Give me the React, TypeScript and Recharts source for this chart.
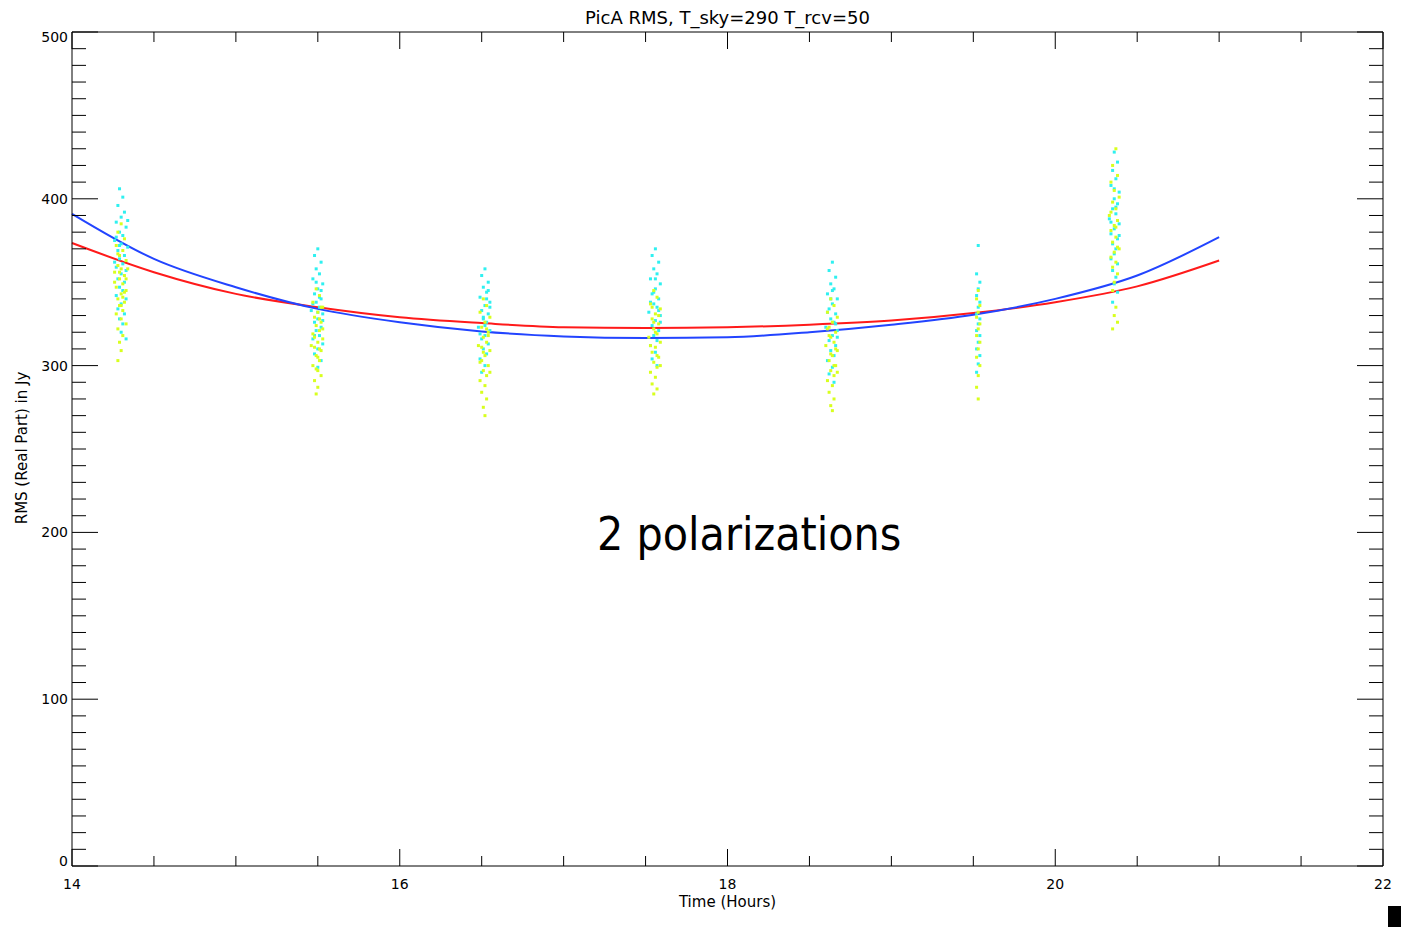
import React from "react";
import { ComposedChart, Line, Scatter, XAxis, YAxis } from "recharts";

// fit curves, read every half hour
const fitTimes = [14, 14.5, 15, 15.5, 16, 16.5, 17, 17.5, 18, 18.5, 19, 19.5, 20, 20.5, 21];
const blueFit = [391, 364, 347, 334, 326, 320.5, 317.5, 316.5, 317, 320, 324.5, 330.5, 340, 354, 377];
const redFit = [373.5, 356, 343, 335, 329, 325.5, 323, 322.5, 323, 324.5, 327, 331.5, 338, 347.5, 363];

// samples, [time, rms]
const cyanPts: [number, number][] = [
  // 14.3 h
  [14.29,406],[14.31,401],[14.28,396],[14.32,392],[14.30,389],[14.27,386],[14.33,383],[14.29,380],[14.31,378],[14.26,375],[14.30,373],[14.34,371],[14.28,369],[14.32,366],[14.29,364],[14.31,361],[14.27,359],[14.33,357],[14.30,355],[14.28,352],[14.32,350],[14.29,347],[14.31,345],[14.27,342],[14.33,340],[14.30,337],[14.28,334],[14.32,331],[14.29,328],[14.31,325],[14.30,320],[14.33,316],[14.27,377],[14.34,387],[14.26,362],[14.29,372],
  // 15.5 h
  [15.50,370],[15.48,366],[15.52,362],[15.49,358],[15.51,355],[15.47,352],[15.53,349],[15.50,346],[15.48,343],[15.52,340],[15.49,338],[15.51,335],[15.46,333],[15.53,331],[15.50,328],[15.48,326],[15.52,323],[15.49,321],[15.51,318],[15.47,316],[15.53,313],[15.50,310],[15.48,307],[15.52,303],[15.50,299],[15.49,350],[15.51,341],[15.47,337],[15.53,327],[15.50,332],[15.48,318],[15.52,345],
  // 16.5 h
  [16.52,358],[16.50,354],[16.54,350],[16.51,347],[16.53,344],[16.49,341],[16.55,338],[16.52,336],[16.50,333],[16.54,331],[16.51,328],[16.53,326],[16.48,323],[16.55,321],[16.52,318],[16.50,316],[16.54,313],[16.51,310],[16.53,307],[16.49,304],[16.52,300],[16.50,296],[16.53,340],[16.51,329],[16.55,335],[16.49,319],[16.52,324],[16.54,345],
  // 17.56 h
  [17.56,370],[17.54,366],[17.58,362],[17.55,358],[17.57,355],[17.53,352],[17.59,349],[17.56,346],[17.54,343],[17.58,340],[17.55,337],[17.57,335],[17.52,332],[17.59,330],[17.56,327],[17.54,324],[17.58,321],[17.55,318],[17.57,315],[17.53,312],[17.56,308],[17.54,304],[17.57,300],[17.55,344],[17.58,333],[17.53,338],[17.59,326],[17.56,352],
  // 18.64 h
  [18.64,362],[18.62,357],[18.66,353],[18.63,349],[18.65,346],[18.61,343],[18.67,340],[18.64,337],[18.62,334],[18.66,331],[18.63,328],[18.65,326],[18.60,323],[18.67,321],[18.64,318],[18.62,315],[18.66,312],[18.63,309],[18.65,306],[18.61,303],[18.64,299],[18.62,295],[18.65,290],[18.63,340],[18.66,325],[18.61,332],[18.67,317],[18.64,345],
  // 19.53 h
  [19.53,372],[19.52,355],[19.54,350],[19.53,346],[19.52,342],[19.54,338],[19.53,335],[19.52,331],[19.54,328],[19.53,325],[19.52,321],[19.54,318],[19.53,314],[19.52,310],[19.54,306],[19.53,301],[19.52,296],
  // 20.36 h
  [20.36,428],[20.38,422],[20.35,417],[20.37,412],[20.34,408],[20.39,404],[20.36,400],[20.38,397],[20.35,394],[20.37,391],[20.33,388],[20.39,385],[20.36,382],[20.34,379],[20.38,376],[20.35,373],[20.37,370],[20.36,367],[20.34,364],[20.38,361],[20.35,357],[20.37,353],[20.36,349],[20.38,344],[20.35,338],[20.37,395],[20.34,386],[20.39,378],[20.36,406],
];

const yellowPts: [number, number][] = [
  [14.30,385],[14.28,380],[14.32,376],[14.27,372],[14.31,369],[14.29,366],[14.33,363],[14.28,360],[14.30,358],[14.26,356],[14.32,354],[14.29,352],[14.31,349],[14.27,347],[14.33,345],[14.30,343],[14.28,340],[14.32,338],[14.29,336],[14.31,333],[14.27,331],[14.30,328],[14.33,325],[14.28,322],[14.31,318],[14.29,314],[14.30,309],[14.28,303],[14.32,344],[14.26,350],[14.34,358],[14.29,356],[14.31,341],[14.28,367],[14.33,352],[14.30,336],
  [15.49,346],[15.51,342],[15.47,338],[15.53,335],[15.50,332],[15.48,329],[15.52,326],[15.49,324],[15.51,321],[15.47,319],[15.53,316],[15.50,314],[15.48,311],[15.52,309],[15.49,306],[15.51,303],[15.47,300],[15.50,297],[15.52,294],[15.48,291],[15.50,287],[15.49,283],[15.51,328],[15.48,317],[15.53,322],[15.46,312],[15.50,305],[15.52,335],[15.49,298],[15.51,310],
  [16.51,340],[16.53,336],[16.49,332],[16.55,329],[16.52,326],[16.50,323],[16.54,320],[16.51,317],[16.53,314],[16.48,312],[16.55,309],[16.52,306],[16.50,303],[16.54,300],[16.51,297],[16.53,294],[16.49,291],[16.52,288],[16.50,284],[16.53,280],[16.51,275],[16.52,270],[16.50,311],[16.54,318],[16.49,302],[16.53,322],[16.51,308],[16.55,296],
  [17.55,345],[17.57,341],[17.53,337],[17.59,334],[17.56,331],[17.54,328],[17.58,325],[17.55,322],[17.57,319],[17.52,317],[17.59,314],[17.56,311],[17.54,308],[17.58,305],[17.55,302],[17.57,299],[17.53,296],[17.56,293],[17.54,289],[17.57,286],[17.55,283],[17.56,320],[17.58,330],[17.53,312],[17.57,306],[17.54,335],[17.59,300],[17.55,326],
  [18.63,340],[18.65,336],[18.61,332],[18.67,329],[18.64,326],[18.62,323],[18.66,320],[18.63,317],[18.65,314],[18.60,312],[18.67,309],[18.64,306],[18.62,303],[18.66,300],[18.63,297],[18.65,294],[18.61,291],[18.64,288],[18.62,284],[18.65,280],[18.63,276],[18.64,273],[18.66,310],[18.62,318],[18.65,300],[18.61,322],[18.67,296],[18.63,307],
  [19.53,345],[19.52,340],[19.54,336],[19.53,332],[19.52,329],[19.54,325],[19.53,322],[19.52,318],[19.54,314],[19.53,310],[19.52,305],[19.54,300],[19.53,294],[19.52,287],[19.53,280],
  [20.37,430],[20.35,420],[20.38,414],[20.34,410],[20.36,405],[20.39,401],[20.35,398],[20.37,394],[20.33,390],[20.38,387],[20.36,384],[20.34,381],[20.37,377],[20.35,374],[20.38,371],[20.36,368],[20.34,365],[20.37,362],[20.35,359],[20.38,355],[20.36,350],[20.35,345],[20.37,335],[20.36,330],[20.38,326],[20.35,322],[20.37,383],[20.34,392],[20.39,370],
];

const xTicks = [14, 14.5, 15, 15.5, 16, 16.5, 17, 17.5, 18, 18.5, 19, 19.5, 20, 20.5, 21, 21.5, 22];
const yTicks = Array.from({ length: 51 }, (_, i) => i * 10);

const blueData = fitTimes.map((t, i) => ({ t, v: blueFit[i] }));
const redData = fitTimes.map((t, i) => ({ t, v: redFit[i] }));
const cyanData = cyanPts.map(([t, v]) => ({ t, v }));
const yellowData = yellowPts.map(([t, v]) => ({ t, v }));

const FONT = "'DejaVu Sans', sans-serif";

const BottomTick = (p: any) => {
  const v = p.payload.value;
  const major = v % 2 === 0;
  return (
    <g>
      <line x1={p.x} x2={p.x} y1={p.y} y2={p.y - (major ? 17 : 10)} stroke="#000" />
      {major && (
        <text x={p.x} y={p.y + 23} textAnchor="middle" fontSize={14} fontFamily={FONT} fill="#000">
          {v}
        </text>
      )}
    </g>
  );
};

const TopTick = (p: any) => {
  const major = p.payload.value % 2 === 0;
  return <line x1={p.x} x2={p.x} y1={p.y} y2={p.y + (major ? 17 : 10)} stroke="#000" />;
};

const LeftTick = (p: any) => {
  const v = p.payload.value;
  const major = v % 100 === 0;
  const dy = v === 500 ? 10 : v === 0 ? 0 : 5;
  return (
    <g>
      <line x1={p.x} x2={p.x + (major ? 26 : 14)} y1={p.y} y2={p.y} stroke="#000" />
      {major && (
        <text x={p.x - 4} y={p.y + dy} textAnchor="end" fontSize={14} fontFamily={FONT} fill="#000">
          {v}
        </text>
      )}
    </g>
  );
};

const RightTick = (p: any) => {
  const major = p.payload.value % 100 === 0;
  return <line x1={p.x} x2={p.x - (major ? 26 : 14)} y1={p.y} y2={p.y} stroke="#000" />;
};

const dot = (color: string) => (p: any) => (
  <rect x={p.cx - 1.5} y={p.cy - 1.5} width={3} height={3} fill={color} />
);

export default function App() {
  return (
    <div style={{ position: "absolute", left: 0, top: 0, width: 1401, height: 927, background: "#fff" }}>
      <ComposedChart width={1401} height={927} margin={{ top: 0, right: 0, bottom: 0, left: 0 }}>
        <XAxis
          xAxisId="b"
          dataKey="t"
          type="number"
          domain={[14, 22]}
          ticks={xTicks}
          height={61}
          tickSize={0}
          tickMargin={0}
          tick={BottomTick}
          interval={0}
          stroke="#000"
        />
        <XAxis
          xAxisId="t"
          orientation="top"
          dataKey="t"
          type="number"
          domain={[14, 22]}
          ticks={xTicks}
          height={32}
          tickSize={0}
          tickMargin={0}
          tick={TopTick}
          interval={0}
          stroke="#000"
        />
        <YAxis
          yAxisId="l"
          type="number"
          domain={[0, 500]}
          ticks={yTicks}
          width={72}
          tickSize={0}
          tickMargin={0}
          tick={LeftTick}
          interval={0}
          stroke="#000"
        />
        <YAxis
          yAxisId="r"
          orientation="right"
          type="number"
          domain={[0, 500]}
          ticks={yTicks}
          width={18}
          tickSize={0}
          tickMargin={0}
          tick={RightTick}
          interval={0}
          stroke="#000"
        />
        <Scatter xAxisId="b" yAxisId="l" data={cyanData} dataKey="v" shape={dot("#2ff0f0")} isAnimationActive={false} />
        <Scatter xAxisId="b" yAxisId="l" data={yellowData} dataKey="v" shape={dot("#d8ff1e")} isAnimationActive={false} />
        <Line xAxisId="b" yAxisId="l" data={redData} dataKey="v" type="monotone" stroke="#ff1a1a" strokeWidth={2} dot={false} isAnimationActive={false} />
        <Line xAxisId="b" yAxisId="l" data={blueData} dataKey="v" type="monotone" stroke="#2244ff" strokeWidth={2} dot={false} isAnimationActive={false} />
        {/* invisible series so the top and right axes get registered */}
        <Line xAxisId="t" yAxisId="r" data={blueData} dataKey="v" stroke="none" dot={false} isAnimationActive={false} />
      </ComposedChart>

      <div style={{ position: "absolute", left: 0, width: 1455, top: 7, textAlign: "center", fontFamily: FONT, fontSize: 18 }}>
        PicA RMS, T_sky=290 T_rcv=50
      </div>
      <div style={{ position: "absolute", left: 0, width: 1455, top: 893, textAlign: "center", fontFamily: FONT, fontSize: 15 }}>
        Time (Hours)
      </div>
      <div
        style={{
          position: "absolute",
          left: 22,
          top: 448,
          transform: "translate(-50%, -50%) rotate(-90deg)",
          whiteSpace: "nowrap",
          fontFamily: FONT,
          fontSize: 15,
        }}
      >
        RMS (Real Part) in Jy
      </div>
      <div
        style={{
          position: "absolute",
          left: 597,
          top: 507,
          fontFamily: "'DejaVu Sans Condensed', 'DejaVu Sans', sans-serif",
          fontStretch: "condensed",
          fontSize: 46,
          color: "#000",
        }}
      >
        2 polarizations
      </div>
      <div style={{ position: "absolute", left: 1388, top: 906, width: 13, height: 21, background: "#000" }} />
    </div>
  );
}
